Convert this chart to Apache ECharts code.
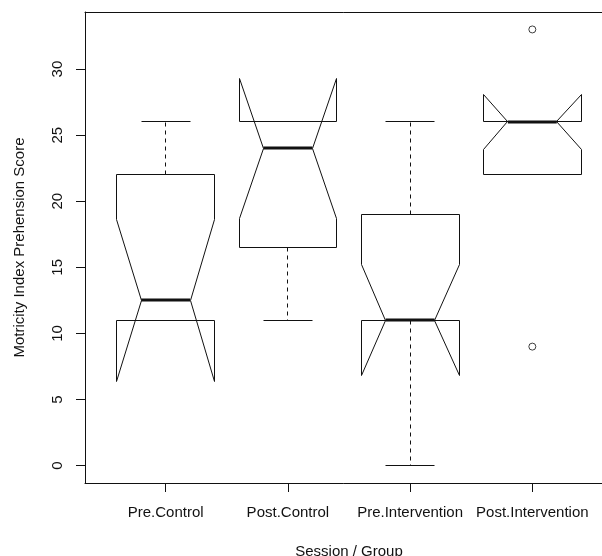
<!DOCTYPE html>
<html>
<head>
<meta charset="utf-8">
<script src="https://cdn.jsdelivr.net/npm/echarts@6/dist/echarts.min.js"></script>
<style>
  html, body { margin: 0; padding: 0; background: #fff; }
  #chart { width: 602px; height: 556px; }
</style>
</head>
<body>
<div id="chart"></div>
<script>
// groups and box statistics
const categories = ['Pre.Control', 'Post.Control', 'Pre.Intervention', 'Post.Intervention']
const lowerWhisker = [11, 11, 0, 22]
const lowerHinge = [11, 16.5, 11, 22]
const medians = [12.5, 24, 11, 26]
const upperHinge = [22, 26, 19, 26]
const upperWhisker = [26, 26, 26, 26]
const notchLow = [6.36, 18.69, 6.79, 23.89]
const notchHigh = [18.64, 29.31, 15.21, 28.11]
const outliers = [[4, 33], [4, 9]]
const yTicks = [0, 5, 10, 15, 20, 25, 30]
const xTicks = [1, 2, 3, 4]

const boxData = categories.map((c, i) => [
  i + 1, lowerWhisker[i], lowerHinge[i], medians[i], upperHinge[i],
  upperWhisker[i], notchLow[i], notchHigh[i]
])

const ink = '#111'
const font = 'Arial, "Liberation Sans", sans-serif'

// snap thin lines onto the pixel grid
const snap = v => Math.round(v - 0.5) + 0.5

function renderBox (params, api) {
  const x = api.value(0)
  const wlo = api.value(1)
  const q1 = api.value(2)
  const med = api.value(3)
  const q3 = api.value(4)
  const whi = api.value(5)
  const nlo = api.value(6)
  const nhi = api.value(7)
  const pt = (dx, v) => {
    const c = api.coord([x + dx, v])
    return [snap(c[0]), snap(c[1])]
  }
  const seg = (a, b, extra) => ({
    type: 'line',
    shape: { x1: a[0], y1: a[1], x2: b[0], y2: b[1] },
    style: Object.assign({ stroke: ink, lineWidth: 1 }, extra || {})
  })

  const half = 0.4
  const inner = 0.2
  const poly = [
    pt(-half, q1), pt(-half, nlo), pt(-inner, med), pt(-half, nhi), pt(-half, q3),
    pt(half, q3), pt(half, nhi), pt(inner, med), pt(half, nlo), pt(half, q1)
  ]
  const medL = api.coord([x - inner, med])
  const medR = api.coord([x + inner, med])

  return {
    type: 'group',
    children: [
      seg(pt(0, q1), pt(0, wlo), { lineDash: [4, 4] }),
      seg(pt(0, q3), pt(0, whi), { lineDash: [4, 4] }),
      seg(pt(-inner, wlo), pt(inner, wlo)),
      seg(pt(-inner, whi), pt(inner, whi)),
      {
        type: 'polygon',
        shape: { points: poly },
        style: { fill: null, stroke: ink, lineWidth: 1 }
      },
      {
        type: 'line',
        shape: { x1: medL[0], y1: Math.round(medL[1]), x2: medR[0], y2: Math.round(medR[1]) },
        style: { stroke: ink, lineWidth: 3 }
      }
    ]
  }
}

const chart = echarts.init(document.getElementById('chart'))

const xMin = 0.34
const xMax = 4.66

const option = {
  animation: false,
  backgroundColor: '#fff',
  grid: {
    left: 85,
    right: -11, // the plot frame runs past the right edge of the picture
    top: 12,
    bottom: 73,
    outerBoundsMode: 'none'
  },
  xAxis: [
    {
      type: 'value',
      min: xMin,
      max: xMax,
      name: 'Session / Group',
      nameLocation: 'middle',
      nameGap: 61,
      nameTextStyle: { color: ink, fontSize: 15, fontFamily: font },
      axisLine: { show: true, onZero: false, lineStyle: { color: ink, width: 1 } },
      splitLine: { show: false },
      axisTick: { show: true, length: 9, customValues: xTicks, lineStyle: { color: ink } },
      axisLabel: {
        customValues: xTicks,
        margin: 22,
        color: ink,
        fontSize: 15,
        fontFamily: font,
        formatter: v => categories[Math.round(v) - 1] || ''
      }
    },
    {
      type: 'value',
      position: 'top',
      min: xMin,
      max: xMax,
      axisLine: { show: true, onZero: false, lineStyle: { color: ink, width: 1 } },
      axisTick: { show: false },
      axisLabel: { show: false },
      splitLine: { show: false }
    }
  ],
  yAxis: {
    type: 'value',
    min: -1.32,
    max: 34.32,
    name: 'Motricity Index Prehension Score',
    nameLocation: 'middle',
    nameRotate: 90,
    nameGap: 58,
    nameTextStyle: { color: ink, fontSize: 15, fontFamily: font },
    axisLine: { show: true, onZero: false, lineStyle: { color: ink, width: 1 } },
    splitLine: { show: false },
    axisTick: { show: true, length: 9, customValues: yTicks, lineStyle: { color: ink } },
    axisLabel: {
      customValues: yTicks,
      rotate: 90,
      margin: 20,
      color: ink,
      fontSize: 15,
      fontFamily: font
    }
  },
  series: [
    {
      type: 'custom',
      renderItem: renderBox,
      data: boxData,
      clip: false,
      encode: { x: 0, y: [1, 2, 3, 4, 5, 6, 7] }
    },
    {
      type: 'scatter',
      data: outliers,
      symbol: 'circle',
      symbolSize: 7,
      itemStyle: { color: 'transparent', borderColor: ink, borderWidth: 1 }
    }
  ]
}

chart.setOption(option)
window.addEventListener('resize', () => chart.resize())
</script>
</body>
</html>
